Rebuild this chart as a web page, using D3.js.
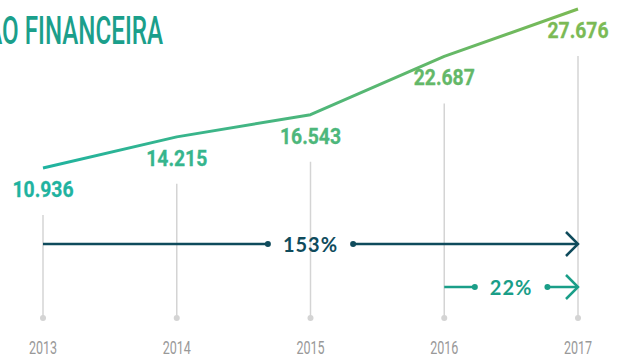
<!DOCTYPE html>
<html>
<head>
<meta charset="utf-8">
<script src="https://cdn.jsdelivr.net/npm/d3@7"></script>
<style>
  html, body { margin: 0; padding: 0; background: #ffffff; }
  svg { display: block; }
</style>
</head>
<body>
<svg id="chart" width="621" height="357"></svg>
<script>
// Receita anual (milhares)
const years = ["2013", "2014", "2015", "2016", "2017"];
const values = [10.936, 14.215, 16.543, 22.687, 27.676];
const valueLabels = ["10.936", "14.215", "16.543", "22.687", "27.676"];
// Períodos de crescimento destacados: [ano inicial, ano final]
const growthFrom = ["2013", "2016"];
const growthTo = ["2017", "2017"];
const titleText = "EVOLUÇÃO FINANCEIRA";

const svg = d3.select("#chart");

const x = d3.scalePoint().domain(years).range([43, 578]);
const y = d3.scaleLinear().domain([d3.min(values), d3.max(values)]).range([168, 9]);

const cStart = "#1fb3a0", cEnd = "#7bba55";
const colorAt = d3.scaleLinear().domain([x(years[0]), x(years[years.length - 1])])
  .range([cStart, cEnd]).interpolate(d3.interpolateRgb);

const defs = svg.append("defs");
const grad = defs.append("linearGradient")
  .attr("id", "lineGrad").attr("gradientUnits", "userSpaceOnUse")
  .attr("x1", x(years[0])).attr("x2", x(years[years.length - 1]))
  .attr("y1", 0).attr("y2", 0);
grad.append("stop").attr("offset", "0%").attr("stop-color", cStart);
grad.append("stop").attr("offset", "100%").attr("stop-color", cEnd);

// Title (condensed)
const titleG = svg.append("g").attr("transform", "translate(163,44) scale(0.62,1)");
titleG.append("text")
  .attr("text-anchor", "end")
  .attr("font-family", "Roboto, 'Open Sans', sans-serif")
  .attr("font-weight", 500)
  .attr("font-size", 39)
  .attr("fill", "#1b9f8b")
  .text(titleText);

const labelDy = 29;
const baseY = 318;

// Vertical guides
const pts = years.map((yr, i) => ({ yr, v: values[i], label: valueLabels[i] }));
svg.append("g").selectAll("line").data(pts).join("line")
  .attr("x1", d => x(d.yr)).attr("x2", d => x(d.yr))
  .attr("y1", d => y(d.v) + labelDy + 18).attr("y2", baseY)
  .attr("stroke", "#d4d4d4").attr("stroke-width", 1.5);
svg.append("g").selectAll("circle").data(pts).join("circle")
  .attr("cx", d => x(d.yr)).attr("cy", baseY).attr("r", 3)
  .attr("fill", "#d4d4d4");

// Year axis labels
svg.append("g").selectAll("g").data(pts).join("g")
  .attr("transform", d => `translate(${x(d.yr)},354) scale(0.66,1)`)
  .append("text")
  .attr("text-anchor", "middle")
  .attr("font-family", "Roboto, sans-serif")
  .attr("font-size", 19)
  .attr("fill", "#999999")
  .text(d => d.yr);

// Value line
const line = d3.line().x(d => x(d.yr)).y(d => y(d.v));
svg.append("path").datum(pts)
  .attr("d", line)
  .attr("fill", "none")
  .attr("stroke", "url(#lineGrad)")
  .attr("stroke-width", 3)
  .attr("stroke-linejoin", "round");

// Value labels
svg.append("g").selectAll("g").data(pts).join("g")
  .attr("transform", d => `translate(${x(d.yr)},${y(d.v) + labelDy}) scale(0.9,1)`)
  .append("text")
  .attr("text-anchor", "middle")
  .attr("font-family", "Roboto, sans-serif")
  .attr("font-weight", 700)
  .attr("font-size", 21.5)
  .attr("fill", d => colorAt(x(d.yr)))
  .attr("stroke", d => colorAt(x(d.yr)))
  .attr("stroke-width", 0.3)
  .text(d => d.label);

// Growth arrows
const arrowY = [244, 287];
const arrowColor = ["#0f4b5c", "#1a9e88"];
growthFrom.forEach((from, i) => {
  const g = svg.append("g");
  const v0 = values[years.indexOf(from)];
  const v1 = values[years.indexOf(growthTo[i])];
  const pct = Math.round((v1 / v0 - 1) * 100) + "%";
  const x0 = x(from), x1 = x(growthTo[i]);
  const cy = arrowY[i], col = arrowColor[i];
  const cx = (x0 + x1) / 2;
  const t = g.append("text")
    .attr("x", cx).attr("y", cy + 8)
    .attr("text-anchor", "middle")
    .attr("font-family", "Lato, 'Open Sans', sans-serif")
    .attr("font-weight", 700)
    .attr("font-size", 20)
    .attr("letter-spacing", 1)
    .attr("fill", col)
    .text(pct);
  const tw = t.node().getComputedTextLength();
  const half = tw / 2 + 15;
  g.append("line").attr("x1", x0).attr("x2", cx - half).attr("y1", cy).attr("y2", cy)
    .attr("stroke", col).attr("stroke-width", 2.5);
  g.append("line").attr("x1", cx + half).attr("x2", x1 - 1).attr("y1", cy).attr("y2", cy)
    .attr("stroke", col).attr("stroke-width", 2.5);
  g.append("circle").attr("cx", cx - half).attr("cy", cy).attr("r", 3).attr("fill", col);
  g.append("circle").attr("cx", cx + half).attr("cy", cy).attr("r", 3).attr("fill", col);
  g.append("path")
    .attr("d", `M${x1 - 12},${cy - 12} L${x1},${cy} L${x1 - 12},${cy + 12}`)
    .attr("fill", "none").attr("stroke", col).attr("stroke-width", 2.5)
    .attr("stroke-linejoin", "miter");
});
</script>
</body>
</html>
